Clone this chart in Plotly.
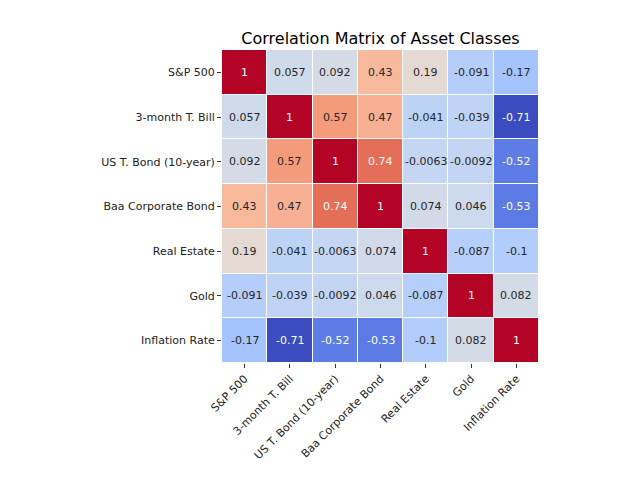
import numpy as np
import plotly.graph_objects as go

assets = ["S&P 500", "3-month T. Bill", "US T. Bond (10-year)", "Baa Corporate Bond",
          "Real Estate", "Gold", "Inflation Rate"]

corr = [
    [1, 0.057, 0.092, 0.43, 0.19, -0.091, -0.17],
    [0.057, 1, 0.57, 0.47, -0.041, -0.039, -0.71],
    [0.092, 0.57, 1, 0.74, -0.0063, -0.0092, -0.52],
    [0.43, 0.47, 0.74, 1, 0.074, 0.046, -0.53],
    [0.19, -0.041, -0.0063, 0.074, 1, -0.087, -0.1],
    [-0.091, -0.039, -0.0092, 0.046, -0.087, 1, 0.082],
    [-0.17, -0.71, -0.52, -0.53, -0.1, 0.082, 1],
]

# matplotlib "coolwarm"
cw = [(59, 76, 192), (68, 90, 204), (77, 104, 215), (87, 117, 225), (98, 130, 234),
      (108, 142, 241), (119, 154, 247), (130, 165, 251), (141, 176, 254), (152, 185, 255),
      (163, 194, 255), (174, 201, 253), (184, 208, 249), (194, 213, 244), (204, 217, 238),
      (213, 219, 230), (221, 221, 221), (229, 216, 209), (236, 211, 197), (241, 204, 184),
      (245, 196, 172), (247, 187, 160), (247, 177, 148), (247, 166, 137), (244, 154, 123),
      (241, 141, 112), (236, 127, 99), (229, 112, 88), (222, 96, 77), (213, 80, 66),
      (203, 62, 56), (192, 40, 47), (180, 4, 38)]
stops = np.linspace(0, 1, len(cw))
colorscale = [[float(s), "rgb(%d,%d,%d)" % c] for s, c in zip(stops, cw)]

z = np.array(corr)
zmin, zmax = z.min(), z.max()


def text_color(v):
    t = (v - zmin) / (zmax - zmin)
    rgb = [np.interp(t, stops, [c[i] for c in cw]) / 255 for i in range(3)]
    lin = [c / 12.92 if c <= 0.03928 else ((c + 0.055) / 1.055) ** 2.4 for c in rgb]
    lum = 0.2126 * lin[0] + 0.7152 * lin[1] + 0.0722 * lin[2]
    return "white" if lum <= 0.408 else "#262626"


fig = go.Figure(go.Heatmap(
    z=z, x=assets, y=assets,
    colorscale=colorscale, zmin=zmin, zmax=zmax,
    showscale=False, xgap=1, ygap=1, hoverinfo="skip",
))

annotations = []
for i, row_name in enumerate(assets):
    for j, col_name in enumerate(assets):
        v = corr[i][j]
        annotations.append(dict(
            x=col_name, y=row_name, xref="x", yref="y",
            text="%.2g" % v, showarrow=False,
            font=dict(size=11, color=text_color(v), family="DejaVu Sans"),
        ))

# page has an 8px body margin, so shift everything up/left by 8px
fig.update_layout(
    width=640, height=480,
    paper_bgcolor="white", plot_bgcolor="white",
    font=dict(family="DejaVu Sans", size=11, color="#222"),
    title=dict(text="Correlation Matrix of Asset Classes", x=(214 + 531) / 2 / 640,
               xanchor="center", y=1 - 30 / 480, yanchor="middle",
               font=dict(size=16, color="black")),
    margin=dict(l=214, r=640 - 531, t=42, b=480 - 355),
    annotations=annotations,
    xaxis=dict(tickangle=-45, ticks="outside", ticklen=4, tickcolor="#333",
               showgrid=False, zeroline=False, showline=False),
    yaxis=dict(autorange="reversed", ticks="outside", ticklen=4, tickcolor="#333",
               showgrid=False, zeroline=False, showline=False),
)

fig.write_html("out.html")
